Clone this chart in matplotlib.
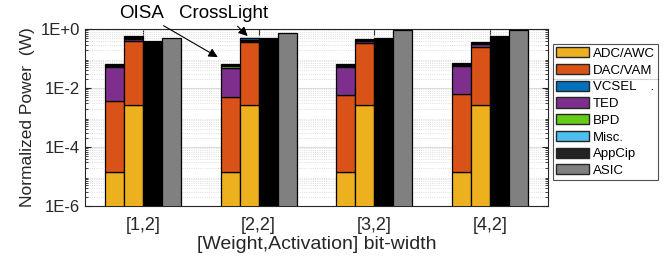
import numpy as np
import matplotlib
matplotlib.use("Agg")
import matplotlib.pyplot as plt
from matplotlib.patches import Patch
from matplotlib.lines import Line2D

plt.rcParams['font.family'] = ['Liberation Sans', 'DejaVu Sans']

# data (W), per bit-width configuration
configs = ['[1,2]', '[2,2]', '[3,2]', '[4,2]']

# OISA breakdown
oisa_adc = [1.4e-5, 1.4e-5, 1.4e-5, 1.4e-5]
oisa_dac = [3.6e-3, 4.9e-3, 5.6e-3, 6.1e-3]
oisa_ted = [0.047, 0.044, 0.045, 0.048]
oisa_bpd = [0.006, 0.006, 0.006, 0.006]
oisa_vcsel = [0.004, 0.006, 0.006, 0.005]
oisa_misc = [0.004, 0.005, 0.005, 0.004]

# CrossLight breakdown
cl_adc = [2.6e-3, 2.6e-3, 2.6e-3, 2.6e-3]
cl_dac = [0.397, 0.357, 0.327, 0.237]
cl_ted = [0.05, 0.05, 0.06, 0.08]
cl_bpd = [0.03, 0.03, 0.02, 0.01]
cl_vcsel = [0.05, 0.04, 0.03, 0.015]
cl_misc = [0.048, 0.038, 0.028, 0.013]

# baselines
appcip = [0.41, 0.48, 0.51, 0.58]
asic = [0.51, 0.71, 0.90, 0.92]

colors = {
    'ADC/AWC': '#EDB120',
    'DAC/VAM': '#D95319',
    'VCSEL': '#0072BD',
    'TED': '#7E2F8E',
    'BPD': '#66CC1A',
    'Misc.': '#4DBEEE',
    'AppCip': '#000000',
    'ASIC': '#808080',
}

fig = plt.figure(figsize=(6.72, 2.62), dpi=100)
ax = fig.add_axes([0.1265, 0.2137, 0.689, 0.6753])
ax.set_yscale('log')

x = np.arange(1, len(configs) + 1)
w = 0.164
floor = 1e-8


def stack(xpos, parts):
    bottom = np.full(len(xpos), floor)
    for name, vals in parts:
        top = bottom + np.array(vals)
        ax.bar(xpos, top - bottom, w, bottom=bottom, color=colors[name],
               edgecolor='black', linewidth=0.9, zorder=3)
        bottom = top


stack(x - 1.5 * w, [('ADC/AWC', oisa_adc), ('DAC/VAM', oisa_dac), ('TED', oisa_ted),
                    ('BPD', oisa_bpd), ('VCSEL', oisa_vcsel), ('Misc.', oisa_misc)])
stack(x - 0.5 * w, [('ADC/AWC', cl_adc), ('DAC/VAM', cl_dac), ('TED', cl_ted),
                    ('BPD', cl_bpd), ('VCSEL', cl_vcsel), ('Misc.', cl_misc)])
stack(x + 0.5 * w, [('AppCip', appcip)])
stack(x + 1.5 * w, [('ASIC', asic)])

ax.set_xlim(0.5, 4.5)
ax.set_ylim(1e-6, 1)
ax.set_xticks(x)
ax.set_xticklabels(configs, fontsize=13, color='#262626')
ax.set_yticks([1e-6, 1e-4, 1e-2, 1])
ax.set_yticklabels(['1E-6', '1E-4', '1E-2', '1E+0'], fontsize=12, color='#262626')
ax.yaxis.set_minor_locator(matplotlib.ticker.LogLocator(base=10, subs=np.arange(2, 10)))
ax.yaxis.set_minor_formatter(matplotlib.ticker.NullFormatter())
ax.tick_params(which='both', direction='in', top=True, right=True, color='#262626')
ax.tick_params(which='major', length=4)
ax.tick_params(which='minor', length=2)
ax.tick_params(axis='x', pad=8)

ax.grid(True, which='major', color='#dcdcdc', linewidth=0.8, zorder=0)
ax.grid(True, which='minor', axis='y', color='#d4d4d4', linestyle=':', linewidth=0.6, zorder=0)
ax.set_axisbelow(True)
for s in ax.spines.values():
    s.set_color('#262626')
    s.set_linewidth(0.8)

ax.set_ylabel('Normalized Power  (W)', fontsize=12.5, color='#262626', labelpad=4)
ax.set_xlabel('[Weight,Activation] bit-width', fontsize=14, color='#262626', labelpad=1)

# annotations
ax.annotate('OISA', xy=(1.647, 0.112), xytext=(0.99, 3.5), fontsize=13.5,
            ha='center', va='center', annotation_clip=False,
            arrowprops=dict(arrowstyle='-|>', color='black', lw=0.8, shrinkA=2, shrinkB=0))
ax.annotate('CrossLight', xy=(1.905, 0.58), xytext=(1.70, 3.5), fontsize=13.5,
            ha='center', va='center', annotation_clip=False,
            arrowprops=dict(arrowstyle='-|>', color='black', lw=0.8, shrinkA=2, shrinkB=0))

labels = ['ADC/AWC', 'DAC/VAM', 'VCSEL', 'TED', 'BPD', 'Misc.', 'AppCip', 'ASIC']
handles = [Patch(facecolor=colors[k], edgecolor='#262626', linewidth=1.0) for k in labels]
handles[6] = Patch(facecolor='#222222', edgecolor='#262626', linewidth=1.0)
shown = ['ADC/AWC', 'DAC/VAM', 'VCSEL    .', 'TED', 'BPD', 'Misc.', 'AppCip', 'ASIC']
leg = fig.legend(handles, shown, loc='upper left', bbox_to_anchor=(0.823, 0.832),
                 fontsize=9.5, frameon=True, fancybox=False, borderpad=0.25,
                 handlelength=2.5, handleheight=0.8, handletextpad=0.25,
                 labelspacing=0.31, borderaxespad=0)
leg.get_frame().set_edgecolor('#262626')
leg.get_frame().set_linewidth(0.8)

# separator line under the first two entries
fig.canvas.draw()
inv = fig.transFigure.inverted()
t1 = leg.get_texts()[1].get_window_extent()
t2 = leg.get_texts()[2].get_window_extent()
fb = leg.get_frame().get_window_extent()
ysep = inv.transform((0, (t1.y0 + t2.y1) / 2))[1]
x0 = inv.transform((fb.x0, 0))[0]
x1 = inv.transform((fb.x1, 0))[0]
fig.add_artist(Line2D([x0, x1], [ysep, ysep], color='#262626', linewidth=0.8))

fig.savefig('out.png', dpi=100)
